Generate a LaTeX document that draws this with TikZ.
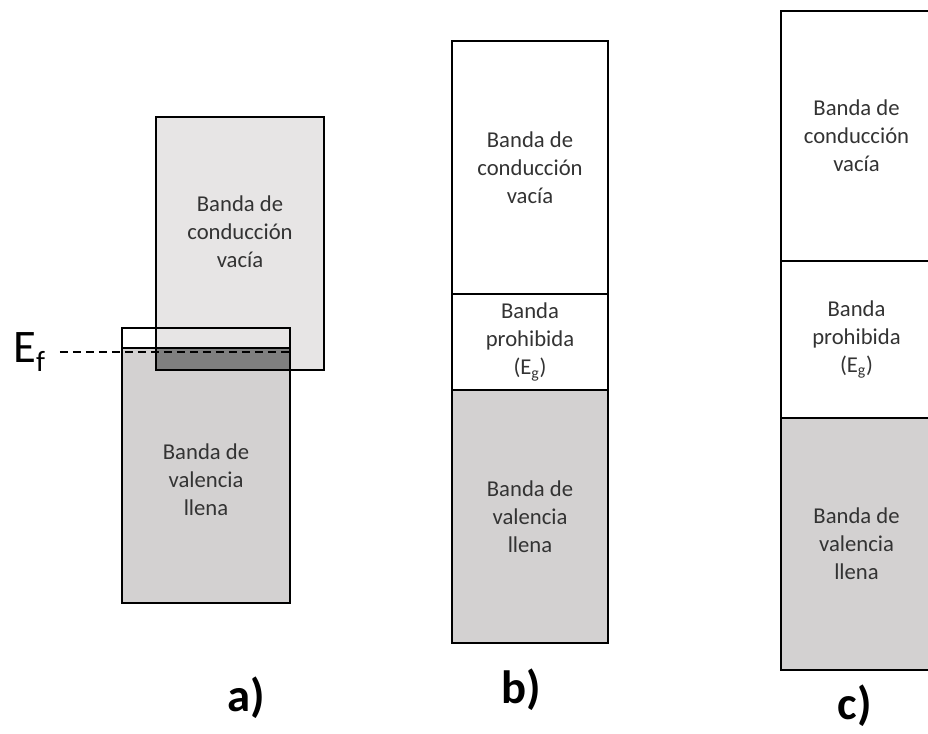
\documentclass[tikz,border=0pt]{standalone}
\usepackage{fontspec}
\setmainfont{Carlito}
\usetikzlibrary{positioning}

\definecolor{condgray}{HTML}{E7E5E5}
\definecolor{valgray}{HTML}{D3D1D1}
\definecolor{overgray}{HTML}{7F7F7F}

\tikzset{
  txt/.style={align=center, text=black!80, font=\fontsize{17}{21}\selectfont},
  band/.style={draw, line width=1.4pt, outer sep=0pt, txt},
  tag/.style={font=\bfseries\fontsize{35}{40}\selectfont}
}

\begin{document}
\begin{tikzpicture}[x=0.75pt, y=-0.75pt]
\useasboundingbox (0,0) rectangle (928,734);

% a) conductor
\fill[condgray] (156,117) rectangle (324,370);
\fill[valgray]  (122,348) rectangle (290,603);
\fill[overgray] (156,348) rectangle (290,370);
\draw[band] (156,117) rectangle (324,370);
\draw[band] (122,328) rectangle (290,603);
\draw[line width=2.2pt] (122,348) -- (290,348);

\coordinate (fermi) at (290,352);
\node (ef) [anchor=base west, inner sep=0pt, font=\fontsize{35}{40}\selectfont] at (13,362)
      {E\raisebox{-7pt}{\fontsize{22}{22}\selectfont f}};
\draw[line width=1.4pt, dash pattern=on 6pt off 3.75pt, shorten <=11pt] (ef.east |- fermi) -- (fermi);

\node (cbA) [txt] at (240,232) {Banda de\\conducción\\vacía};
\node (vbA) [txt] at (206,480) {Banda de\\valencia\\llena};
\node (tagA) [tag] at (246,698) {a)};

% b) semiconductor
\node (cbB) [band, minimum width=117pt, minimum height=189.75pt, anchor=north west] at (452,41)
      {Banda de\\conducción\\vacía};
\node (gapB) [band, minimum width=117pt, minimum height=72pt, below=0pt of cbB]
      {Banda\\prohibida\\(E\textsubscript{g})};
\node (vbB) [band, fill=valgray, minimum width=117pt, minimum height=189.75pt, below=0pt of gapB]
      {Banda de\\valencia\\llena};
\node (tagB) [tag] at (521,690) {b)};

% c) aislante
\node (cbC) [band, minimum width=113.25pt, minimum height=187.5pt, anchor=north west] at (781,11)
      {Banda de\\conducción\\vacía};
\node (gapC) [band, minimum width=113.25pt, minimum height=117.75pt, below=0pt of cbC]
      {Banda\\prohibida\\(E\textsubscript{g})};
\node (vbC) [band, fill=valgray, minimum width=113.25pt, minimum height=189pt, below=0pt of gapC]
      {Banda de\\valencia\\llena};
\node (tagC) [tag] at (855,706) {c)};
\end{tikzpicture}
\end{document}
